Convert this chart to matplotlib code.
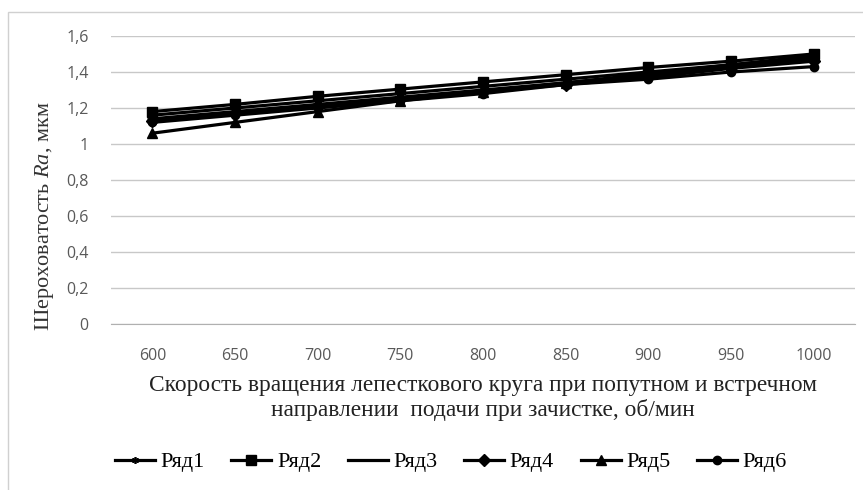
import matplotlib
matplotlib.use("Agg")
import matplotlib.pyplot as plt
from matplotlib.patches import Rectangle

# Rotation speed categories, rpm
speeds = ["600", "650", "700", "750", "800", "850", "900", "950", "1000"]

# Surface roughness Ra, um, for each series
row1 = [1.16, 1.20, 1.24, 1.28, 1.32, 1.36, 1.40, 1.44, 1.48]
row2 = [1.18, 1.22, 1.265, 1.305, 1.345, 1.385, 1.425, 1.46, 1.50]
row3 = [1.14, 1.18, 1.22, 1.26, 1.30, 1.34, 1.38, 1.43, 1.47]
row4 = [1.13, 1.17, 1.21, 1.25, 1.29, 1.33, 1.37, 1.42, 1.46]
row5 = [1.06, 1.12, 1.18, 1.24, 1.29, 1.34, 1.39, 1.44, 1.49]
row6 = [1.12, 1.16, 1.20, 1.24, 1.28, 1.33, 1.36, 1.40, 1.43]

series_names = ["Ряд1", "Ряд2", "Ряд3", "Ряд4", "Ряд5", "Ряд6"]
y_ticks = [0, 0.2, 0.4, 0.6, 0.8, 1.0, 1.2, 1.4, 1.6]
y_tick_labels = ["0", "0,2", "0,4", "0,6", "0,8", "1", "1,2", "1,4", "1,6"]

plt.rcParams["mathtext.fontset"] = "custom"
plt.rcParams["mathtext.it"] = "Liberation Serif:italic"
plt.rcParams["mathtext.rm"] = "Liberation Serif"

fig = plt.figure(figsize=(8.63, 4.9), dpi=100)
fig.patch.set_facecolor("white")

# light chart-area frame
fig.patches.append(Rectangle((8 / 863, -0.01), 1.0, 1 - 12 / 490 + 0.01,
                             transform=fig.transFigure, fill=False,
                             edgecolor="#d0d0d0", linewidth=1.0))

ax = fig.add_axes([111 / 863, 1 - 324 / 490, (855 - 111) / 863, (324 - 36) / 490])

markers = [
    dict(marker=(6, 2, 0), markersize=5, markeredgewidth=1.2),
    dict(marker="s", markersize=6.5),
    dict(marker="_", markersize=7, markeredgewidth=2),
    dict(marker="D", markersize=6),
    dict(marker="^", markersize=7),
    dict(marker="o", markersize=6),
]
xs = list(range(len(speeds)))
for vals, name, mk in zip([row1, row2, row3, row4, row5, row6], series_names, markers):
    ax.plot(xs, vals, color="black", linewidth=2.3, label=name,
            markerfacecolor="black", markeredgecolor="black", **mk)

ax.set_xlim(-0.5, len(speeds) - 0.5)
ax.set_ylim(0, 1.6)
ax.set_xticks(xs)
ax.set_xticklabels(speeds, fontsize=11.5, color="#595959", family="Open Sans")
ax.set_yticks(y_ticks)
ax.set_yticklabels(y_tick_labels, fontsize=11.5, color="#595959", family="Open Sans")
ax.tick_params(length=0)
ax.tick_params(axis="y", pad=16)
ax.tick_params(axis="x", pad=17)
ax.grid(axis="y", color="#c8c8c8", linewidth=1.0)
ax.set_axisbelow(True)
for s in ["top", "right", "left"]:
    ax.spines[s].set_visible(False)
ax.spines["bottom"].set_color("#b0b0b0")

ax.set_ylabel(r"Шероховатость $\mathit{Ra}$, мкм", fontsize=16,
              family="Liberation Serif", color="#333333")
ax.yaxis.set_label_coords(-0.074, 0.375)
ax.set_xlabel("Скорость вращения лепесткового круга при попутном и встречном\n"
              "направлении  подачи при зачистке, об/мин", fontsize=16.8,
              family="Liberation Serif", color="#222222", labelpad=8,
              linespacing=1.2)

leg = fig.legend(loc="center", bbox_to_anchor=(451 / 863, 1 - 462 / 490), ncol=6,
                 frameon=False, prop={"family": "Liberation Serif", "size": 16},
                 handlelength=1.8, columnspacing=1.2, handletextpad=0.25)

fig.savefig("out.png", dpi=100)
